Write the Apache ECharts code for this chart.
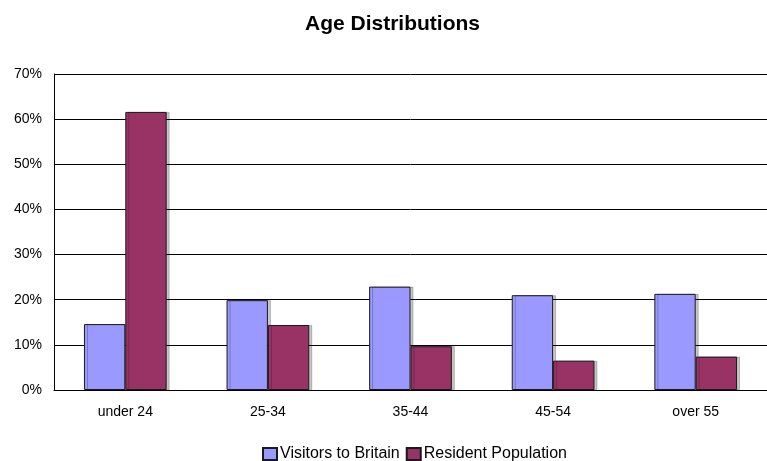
<!DOCTYPE html>
<html>
<head>
<meta charset="utf-8">
<script src="https://cdn.jsdelivr.net/npm/echarts@6/dist/echarts.min.js"></script>
<style>
  html, body { margin: 0; padding: 0; background: #fff; }
  #chart { width: 767px; height: 461px; }
</style>
</head>
<body>
<div id="chart"></div>
<script>
// Age groups and shares (percent) for the two populations
const ageGroups = ['under 24', '25-34', '35-44', '45-54', 'over 55'];
const visitorsToBritain = [14.6, 19.9, 22.9, 21.0, 21.3];
const residentPopulation = [61.6, 14.4, 9.7, 6.5, 7.4];
const seriesNames = ['Visitors to Britain', 'Resident Population'];

const FONT = '"Liberation Sans", Arial, sans-serif';

const barStyle = (color) => ({
  color: color,
  borderColor: '#1a1a1a',
  borderWidth: 1,
  shadowColor: 'rgba(0,0,0,0.22)',
  shadowOffsetX: 3,
  shadowOffsetY: 0,
  shadowBlur: 0
});

const chart = echarts.init(document.getElementById('chart'), null, { renderer: 'canvas' });
chart.setOption({
  animation: false,
  backgroundColor: '#ffffff',
  title: {
    text: 'Age Distributions',
    left: 300,
    top: 9,
    textStyle: { fontFamily: FONT, fontSize: 21, fontWeight: 'bold', color: '#000' }
  },
  legend: {
    top: 441,
    left: 257,
    icon: 'rect',
    itemWidth: 14,
    itemHeight: 12,
    itemGap: 6,
    data: seriesNames,
    textStyle: { fontFamily: FONT, fontSize: 16, color: '#000', padding: [0, 0, 0, -2] }
  },
  grid: { left: 54, top: 74, width: 720, height: 316, containLabel: false },
  xAxis: {
    type: 'category',
    data: ageGroups,
    axisLine: { lineStyle: { color: '#000', width: 1 } },
    axisTick: { show: false },
    axisLabel: { fontFamily: FONT, fontSize: 14, color: '#000', margin: 15 }
  },
  yAxis: {
    type: 'value',
    min: 0,
    max: 70,
    interval: 10,
    axisLine: { show: true, lineStyle: { color: '#000', width: 1 } },
    axisTick: { show: false },
    splitLine: { lineStyle: { color: '#000', width: 1 } },
    axisLabel: { fontFamily: FONT, fontSize: 14, color: '#000', margin: 12, formatter: '{value}%' }
  },
  series: [
    {
      name: seriesNames[0],
      type: 'bar',
      data: visitorsToBritain,
      barGap: '0%',
      barCategoryGap: '42%',
      itemStyle: barStyle('#9999ff')
    },
    {
      name: seriesNames[1],
      type: 'bar',
      data: residentPopulation,
      itemStyle: barStyle('#993366')
    }
  ]
});
</script>
</body>
</html>
